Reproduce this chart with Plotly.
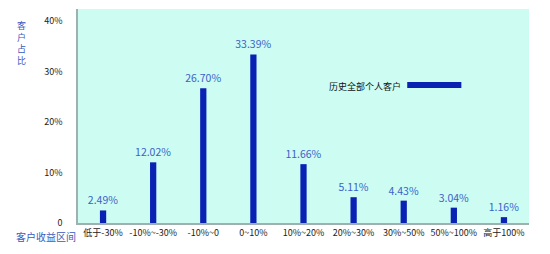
import plotly.graph_objects as go

categories = ["低于-30%", "-10%~-30%", "-10%~0", "0~10%", "10%~20%", "20%~30%", "30%~50%", "50%~100%", "高于100%"]
values = [2.49, 12.02, 26.70, 33.39, 11.66, 5.11, 4.43, 3.04, 1.16]
tick_vals = [0, 10, 20, 30, 40]
tick_text = ["0", "10%", "20%", "30%", "40%"]
series_name = "历史全部个人客户"
y_title = "客户占比"
x_title = "客户收益区间"

bar_color = "#0a22b4"
label_color = "#3a62c8"
font_family = "Noto Sans CJK SC, Noto Sans, sans-serif"

fig = go.Figure()
fig.add_trace(go.Bar(
    x=categories, y=values, width=0.125,
    marker=dict(color=bar_color, line=dict(width=0)),
    text=[f"{v:.2f}%" for v in values], textposition="outside", constraintext="none",
    textfont=dict(color=label_color, size=10.5, family=font_family),
    cliponaxis=False, showlegend=False,
))

fig.update_layout(
    width=550, height=254,
    margin=dict(l=78, r=21, t=9, b=31),
    paper_bgcolor="white", plot_bgcolor="#cdfcf3",
    font=dict(family=font_family, size=9, color="#222"),
    xaxis=dict(showline=True, linecolor="#9fb0b0", linewidth=1.5, ticks="", tickfont=dict(size=9, color="#222"),
               showgrid=False, fixedrange=True),
    yaxis=dict(range=[0, 42.4], tickvals=tick_vals, ticktext=tick_text, showgrid=False, zeroline=False,
               showline=True, linecolor="#9fb0b0", linewidth=1.5, ticks="", ticklabelstandoff=12,
               tickfont=dict(size=9, color="#222")),
    showlegend=False,
)

# legend drawn manually (text left, swatch right)
fig.add_annotation(xref="paper", yref="paper", x=0.552, y=0.64, text=series_name, showarrow=False,
                   xanchor="left", yanchor="middle", font=dict(size=9, color="#111", family=font_family))
fig.add_shape(type="line", xref="paper", yref="paper", x0=0.73, x1=0.85, y0=0.645, y1=0.645,
              line=dict(color=bar_color, width=6))

# y-axis title, stacked vertically one character per line
fig.add_annotation(xref="paper", yref="paper", x=-0.126, y=0.962, text="<br>".join(y_title), showarrow=False,
                   xanchor="center", yanchor="top",
                   font=dict(size=9, color="#3a58c0", family=font_family))
fig.add_annotation(xref="paper", yref="paper", x=0.0, y=-0.065, text=x_title, showarrow=False,
                   xanchor="right", yanchor="middle", font=dict(size=10, color="#3a58c0", family=font_family))

fig.write_html("out.html")
